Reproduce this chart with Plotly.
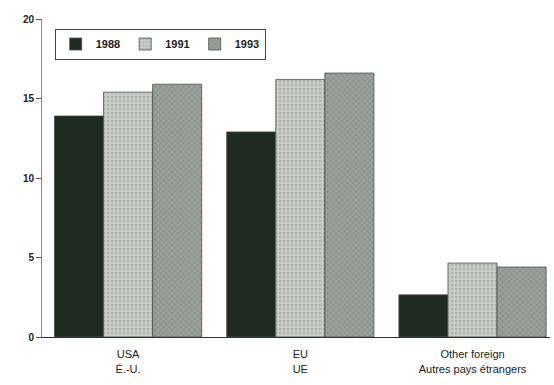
import plotly.graph_objects as go

categories = ["USA<br>É.-U.", "EU<br>UE", "Other foreign<br>Autres pays étrangers"]
years = ["1988", "1991", "1993"]
values_1988 = [13.9, 12.9, 2.65]
values_1991 = [15.4, 16.2, 4.65]
values_1993 = [15.9, 16.6, 4.4]
y_ticks = [0, 5, 10, 15, 20]

series = [values_1988, values_1991, values_1993]
colors = ["#1f2b22", "#c9cec9", "#9aa09b"]
patterns = ["", ".", "x"]
pattern_fg = ["#1f2b22", "#8e948f", "#6a716b"]

fig = go.Figure()
for yr, vals, col, pat, fg in zip(years, series, colors, patterns, pattern_fg):
    fig.add_trace(go.Bar(
        x=categories, y=vals, name=yr,
        marker=dict(color=col, line=dict(width=0.8, color="#4a524c"),
                    pattern=dict(shape=pat, fgcolor=fg, size=4, solidity=0.3)),
    ))

fig.update_layout(
    width=554, height=385,
    margin=dict(l=42, r=4, t=19, b=48),
    paper_bgcolor="white", plot_bgcolor="white",
    barmode="group", bargap=0.145, bargroupgap=0,
    font=dict(family="Arial, Liberation Sans, sans-serif", size=11, color="#222"),
    legend=dict(orientation="h", x=0.025, y=0.97, xanchor="left", yanchor="top",
                bordercolor="#444", borderwidth=1, bgcolor="white",
                font=dict(size=11, weight="bold"), itemwidth=30, tracegroupgap=0),
    showlegend=True,
)
fig.update_xaxes(range=[-0.5, 2.45], showline=True, linecolor="#333", linewidth=1,
                 ticks="", ticklabelstandoff=7, tickfont=dict(size=11))
fig.update_yaxes(range=[0, 20], tickvals=y_ticks, showline=True, linecolor="#888",
                 linewidth=1, ticks="outside", ticklen=5, tickcolor="#555",
                 showgrid=False, zeroline=False, tickfont=dict(size=10, weight="bold"))

fig.write_html("out.html")
